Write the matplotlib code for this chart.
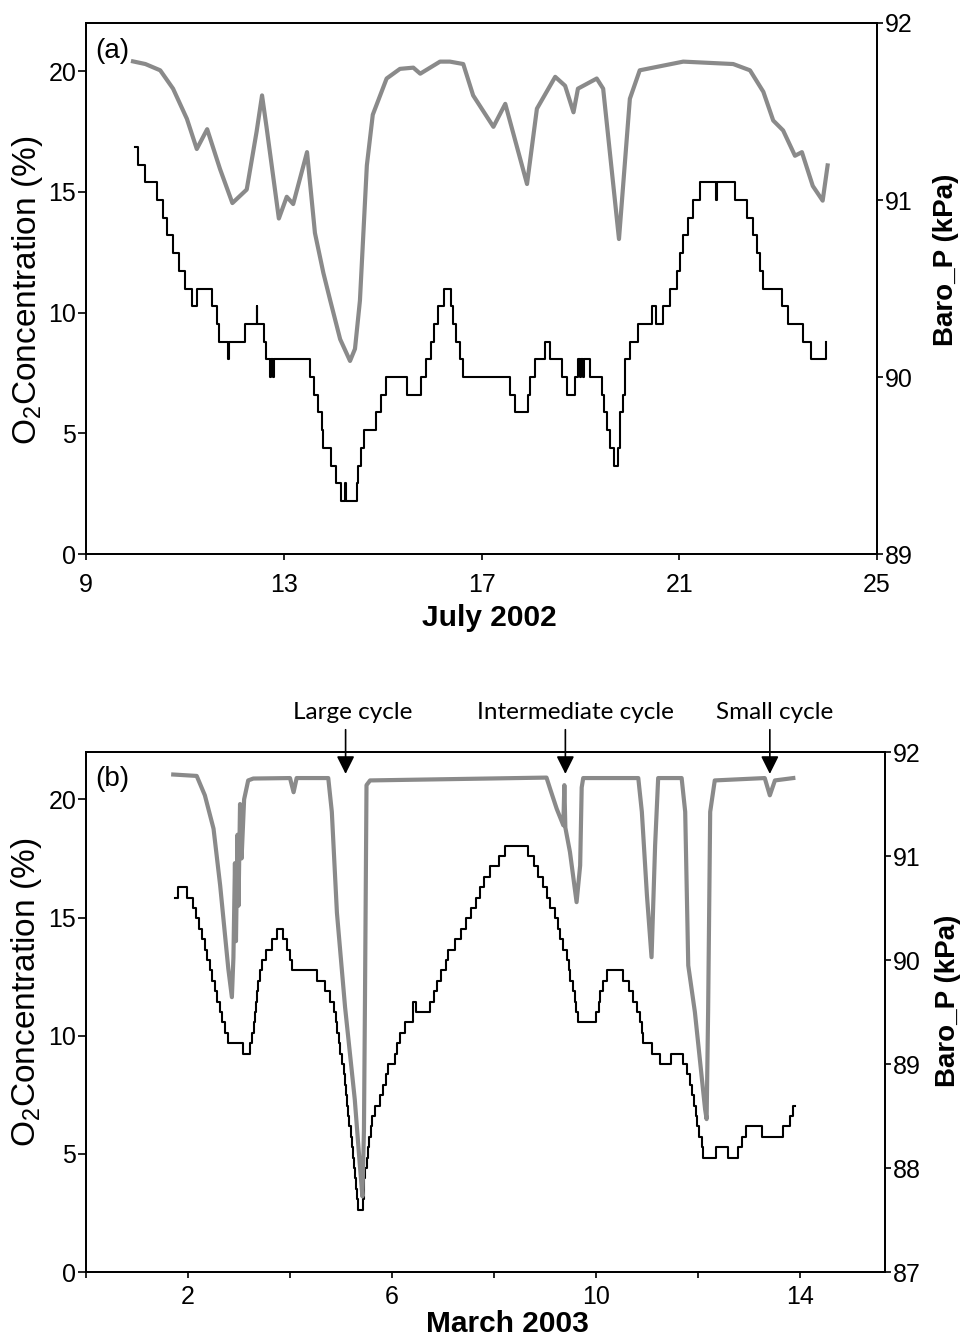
import matplotlib.pyplot as plt
from matplotlib.transforms import blended_transform_factory
from matplotlib.patches import ArrowStyle

plt.rcParams['font.family'] = ['Liberation Sans', 'DejaVu Sans']
plt.rcParams['mathtext.fontset'] = 'custom'
plt.rcParams['mathtext.rm'] = 'Liberation Sans'

GRAY = '#8a8a8a'

# ---- panel (a): July 2002 ----
a_o2_day = [9.95, 10.2, 10.5, 10.76, 11.04, 11.24, 11.45, 11.71, 11.96, 12.25, 12.45, 12.56,
            12.65, 12.9, 13.06, 13.19, 13.47, 13.63, 13.8, 13.94, 14.14, 14.34, 14.44, 14.54,
            14.68, 14.8, 15.08, 15.35, 15.62, 15.76, 16.16, 16.36, 16.63, 16.83, 17.24, 17.48,
            17.92, 18.12, 18.49, 18.69, 18.86, 18.95, 19.33, 19.46, 19.78, 20.0, 20.2, 21.08,
            22.09, 22.43, 22.7, 22.9, 23.1, 23.34, 23.48, 23.7, 23.9, 24.0]
a_o2 = [20.41, 20.3, 20.04, 19.28, 18.03, 16.78, 17.6, 15.95, 14.54, 15.1, 17.5, 19.0,
        17.7, 13.9, 14.8, 14.5, 16.65, 13.3, 11.65, 10.5, 8.9, 8.0, 8.5, 10.5,
        16.1, 18.2, 19.7, 20.1, 20.15, 19.9, 20.4, 20.4, 20.3, 19.0, 17.7, 18.65,
        15.33, 18.45, 19.77, 19.4, 18.3, 19.28, 19.7, 19.28, 13.05, 18.86, 20.04, 20.4,
        20.3, 20.04, 19.15, 17.96, 17.55, 16.5, 16.65, 15.25, 14.64, 16.1]

a_bp_day = [10.00, 10.05, 10.19, 10.43, 10.56, 10.63, 10.75, 10.88, 11.00, 11.14,
            11.24, 11.54, 11.64, 11.68, 11.88, 11.89, 12.22, 12.45, 12.46, 12.59,
            12.65, 12.73, 12.75, 12.78, 12.80, 13.53, 13.62, 13.70, 13.77, 13.80,
            13.95, 14.05, 14.15, 14.24, 14.25, 14.48, 14.51, 14.56, 14.63, 14.86,
            14.96, 15.06, 15.50, 15.78, 15.88, 15.97, 16.03, 16.12, 16.24, 16.38,
            16.43, 16.48, 16.56, 16.62, 17.58, 17.68, 17.93, 17.99, 18.08, 18.28,
            18.39, 18.62, 18.72, 18.89, 18.96, 19.00, 19.02, 19.05, 19.07, 19.19,
            19.43, 19.48, 19.53, 19.60, 19.67, 19.77, 19.80, 19.87, 19.90, 20.00,
            20.17, 20.44, 20.52, 20.68, 20.81, 20.95, 21.01, 21.08, 21.18, 21.28,
            21.42, 21.75, 21.76, 22.13, 22.36, 22.50, 22.57, 22.63, 22.70, 23.07,
            23.20, 23.50, 23.67, 23.97]
a_bp = [91.3, 91.2, 91.1, 91.0, 90.9, 90.8, 90.7, 90.6, 90.5, 90.4,
        90.5, 90.4, 90.3, 90.2, 90.1, 90.2, 90.3, 90.4, 90.3, 90.2,
        90.1, 90.0, 90.1, 90.0, 90.1, 90.0, 89.9, 89.8, 89.7, 89.6,
        89.5, 89.4, 89.3, 89.4, 89.3, 89.4, 89.5, 89.6, 89.7, 89.8,
        89.9, 90.0, 89.9, 90.0, 90.1, 90.2, 90.3, 90.4, 90.5, 90.4,
        90.3, 90.2, 90.1, 90.0, 89.9, 89.8, 89.9, 90.0, 90.1, 90.2,
        90.1, 90.0, 89.9, 90.0, 90.1, 90.0, 90.1, 90.0, 90.1, 90.0,
        89.9, 89.8, 89.7, 89.6, 89.5, 89.6, 89.8, 89.9, 90.1, 90.2,
        90.3, 90.4, 90.3, 90.4, 90.5, 90.6, 90.7, 90.8, 90.9, 91.0,
        91.1, 91.0, 91.1, 91.0, 90.9, 90.8, 90.7, 90.6, 90.5, 90.4,
        90.3, 90.2, 90.1, 90.2]

# ---- panel (b): March 2003 ----
b_o2_day = [1.71, 2.17, 2.33, 2.5, 2.63, 2.79, 2.86, 2.89, 2.92, 2.94, 2.97, 2.99,
            3.02, 3.05, 3.1, 3.18, 3.28, 4.0, 4.07, 4.13, 4.75, 4.82, 4.92, 5.08,
            5.27, 5.37, 5.42, 5.45, 5.47, 5.5, 5.57, 9.03, 9.1, 9.23, 9.36, 9.38,
            9.40, 9.49, 9.62, 9.69, 9.72, 9.75, 10.83, 10.9, 11.0, 11.09, 11.16, 11.22,
            11.68, 11.75, 11.81, 11.94, 12.14, 12.17, 12.2, 12.24, 12.33, 13.31, 13.41,
            13.51, 13.87]
b_o2 = [21.05, 20.99, 20.17, 18.76, 16.36, 12.83, 11.63, 13.3, 17.3, 14.0, 18.5, 15.5,
        19.8, 17.5, 20.0, 20.8, 20.88, 20.9, 20.3, 20.9, 20.9, 19.47, 15.2, 11.2,
        7.3, 4.5, 3.2, 6.0, 11.5, 20.6, 20.8, 20.92, 20.45, 19.6, 18.9, 20.6,
        18.8, 17.77, 15.65, 17.2, 20.5, 20.9, 20.9, 19.47, 15.93, 13.32, 18.05, 20.9,
        20.9, 19.47, 12.97, 11.0, 6.89, 6.47, 11.1, 19.47, 20.8, 20.9, 20.17,
        20.8, 20.9]

b_bp_day = [1.75, 1.81, 1.97, 2.10, 2.16, 2.22, 2.27, 2.33, 2.38, 2.43,
            2.47, 2.52, 2.56, 2.62, 2.66, 2.72, 2.79, 3.08, 3.22, 3.26,
            3.29, 3.31, 3.33, 3.35, 3.38, 3.41, 3.46, 3.52, 3.64, 3.74,
            3.87, 3.94, 4.00, 4.03, 4.52, 4.69, 4.78, 4.86, 4.90, 4.93,
            4.96, 4.99, 5.02, 5.05, 5.08, 5.10, 5.12, 5.14, 5.16, 5.19,
            5.21, 5.23, 5.25, 5.27, 5.29, 5.32, 5.34, 5.44, 5.45, 5.46,
            5.47, 5.50, 5.52, 5.55, 5.58, 5.60, 5.67, 5.76, 5.82, 5.88,
            5.93, 6.06, 6.10, 6.16, 6.25, 6.42, 6.48, 6.75, 6.82, 6.88,
            6.97, 7.05, 7.10, 7.24, 7.35, 7.46, 7.55, 7.65, 7.73, 7.80,
            7.92, 8.10, 8.22, 8.67, 8.78, 8.87, 8.97, 9.03, 9.10, 9.20,
            9.25, 9.29, 9.36, 9.43, 9.47, 9.50, 9.54, 9.58, 9.61, 9.65,
            10.01, 10.05, 10.08, 10.14, 10.22, 10.53, 10.65, 10.72, 10.80, 10.86,
            10.90, 10.93, 11.09, 11.25, 11.48, 11.71, 11.78, 11.84, 11.88, 11.92,
            11.96, 11.99, 12.03, 12.07, 12.10, 12.36, 12.59, 12.79, 12.87, 12.95,
            13.25, 13.67, 13.80, 13.87, 13.90]
b_bp = [90.6, 90.7, 90.6, 90.5, 90.4, 90.3, 90.2, 90.1, 90.0, 89.9,
        89.8, 89.7, 89.6, 89.5, 89.4, 89.3, 89.2, 89.1, 89.2, 89.3,
        89.4, 89.5, 89.6, 89.7, 89.8, 89.9, 90.0, 90.1, 90.2, 90.3,
        90.2, 90.1, 90.0, 89.9, 89.8, 89.7, 89.6, 89.5, 89.4, 89.3,
        89.2, 89.1, 89.0, 88.9, 88.8, 88.7, 88.6, 88.5, 88.4, 88.3,
        88.2, 88.1, 88.0, 87.9, 87.8, 87.7, 87.6, 87.7, 87.8, 87.9,
        88.0, 88.1, 88.2, 88.3, 88.4, 88.5, 88.6, 88.7, 88.8, 88.9,
        89.0, 89.1, 89.2, 89.3, 89.4, 89.6, 89.5, 89.6, 89.7, 89.8,
        89.9, 90.0, 90.1, 90.2, 90.3, 90.4, 90.5, 90.6, 90.7, 90.8,
        90.9, 91.0, 91.1, 91.0, 90.9, 90.8, 90.7, 90.6, 90.5, 90.4,
        90.3, 90.2, 90.1, 90.0, 89.9, 89.8, 89.7, 89.6, 89.5, 89.4,
        89.5, 89.6, 89.7, 89.8, 89.9, 89.8, 89.7, 89.6, 89.5, 89.4,
        89.3, 89.2, 89.1, 89.0, 89.1, 89.0, 88.9, 88.8, 88.7, 88.6,
        88.5, 88.4, 88.3, 88.2, 88.1, 88.2, 88.1, 88.2, 88.3, 88.4,
        88.3, 88.4, 88.5, 88.6, 88.6]

cycle_labels = ['Large cycle', 'Intermediate cycle', 'Small cycle']
cycle_day = [5.09, 9.40, 13.41]
cycle_text_day = [5.23, 9.60, 13.51]


def draw_panel(rect, o2_day, o2, bp_day, bp, xlim, xticks, xticklabels, bp_lim, bp_ticks,
               xlabel, xlabel_pos, panel, ylab_y, rlab_pos, xpad):
    ax = fig.add_axes(rect)
    ax2 = ax.twinx()
    ax2.step(bp_day, bp, where='post', color='black', lw=1.5)
    ax.plot(o2_day, o2, color=GRAY, lw=3.0, solid_joinstyle='round')
    # O2 trace drawn over the pressure trace
    ax.set_zorder(ax2.get_zorder() + 1)
    ax.patch.set_visible(False)

    ax.set_xlim(*xlim)
    ax.set_ylim(0, 22)
    ax2.set_ylim(*bp_lim)
    ax.set_xticks(xticks)
    ax.set_xticklabels(xticklabels)
    ax.set_yticks([0, 5, 10, 15, 20])
    ax2.set_yticks(bp_ticks)

    for a in (ax, ax2):
        for s in a.spines.values():
            s.set_linewidth(1.3)
    ax.tick_params(axis='y', direction='out', length=6, width=1.2, pad=1, labelsize=18)
    ax.tick_params(axis='x', direction='out', length=4.5, width=1.2, pad=xpad, labelsize=18)
    ax2.tick_params(axis='y', direction='out', length=4.5, width=1.2, pad=1, labelsize=18)

    ax.text(-0.0746, ylab_y, 'O$_\\mathregular{2}$Concentration (%)', transform=ax.transAxes,
            rotation=90, ha='center', va='center', fontsize=24)
    ax.text(rlab_pos[0], rlab_pos[1], 'Baro_P (kPa)', transform=ax.transAxes,
            rotation=90, ha='center', va='center', fontsize=20, fontweight='bold')
    ax.text(xlabel_pos[0], xlabel_pos[1], xlabel, transform=ax.transAxes,
            ha='center', va='center', fontsize=21.5, fontweight='bold')
    ax.text(0.033, 0.948, panel, transform=ax.transAxes, ha='center', va='center', fontsize=20)
    return ax, ax2


fig = plt.figure(figsize=(9.69, 13.37), dpi=100)

draw_panel([0.0888, 0.5856, 0.8163, 0.3972], a_o2_day, a_o2, a_bp_day, a_bp,
           (9, 25), [9, 13, 17, 21, 25], ['9', '13', '17', '21', '25'],
           (89, 92), [89, 90, 91, 92], 'July 2002', (0.51, -0.121), '(a)',
           0.497, (1.087, 0.554), 9)

axb, axb2 = draw_panel([0.0888, 0.0486, 0.8246, 0.3889], b_o2_day, b_o2, b_bp_day, b_bp,
                       (0, 15.67), [0, 2, 4, 6, 8, 10, 12, 14],
                       ['', '2', '', '6', '', '10', '', '14'],
                       (87, 92), [87, 88, 89, 90, 91, 92], 'March 2003', (0.527, -0.1),
                       '(b)', 0.537, (1.079, 0.521), 5)

mixed = blended_transform_factory(axb.transData, axb.transAxes)
head = ArrowStyle('-|>', head_length=0.6, head_width=0.3)
for lab, d, td in zip(cycle_labels, cycle_day, cycle_text_day):
    axb.annotate('', xy=(d, 0.958), xycoords=mixed, xytext=(d, 1.043), textcoords=mixed,
                 arrowprops=dict(arrowstyle=head, color='black', lw=1.2, mutation_scale=18,
                                 shrinkA=0, shrinkB=0),
                 annotation_clip=False)
    axb.text(td, 1.077, lab, transform=mixed, ha='center', va='center',
             fontsize=17.5, family=['Lato', 'DejaVu Sans'])

fig.savefig('out.png', dpi=100)
